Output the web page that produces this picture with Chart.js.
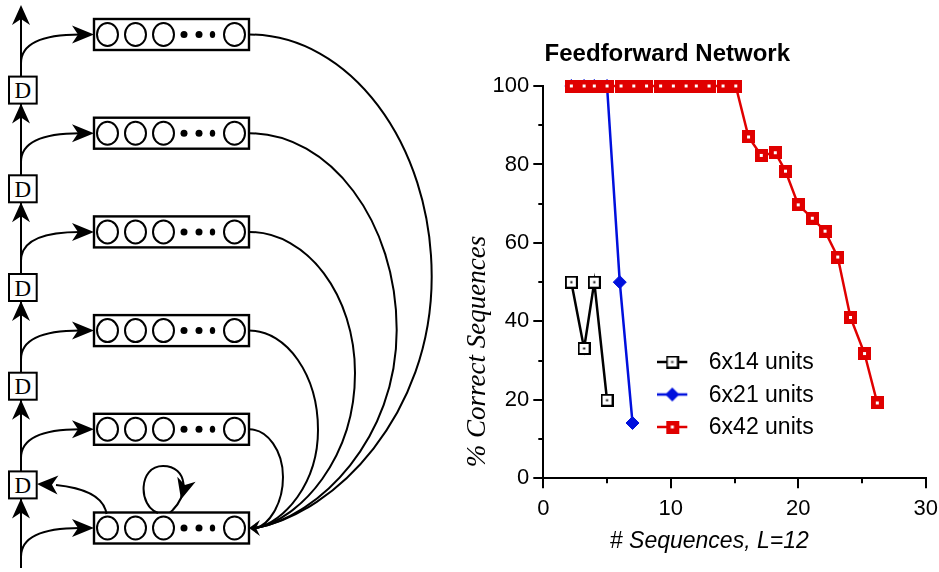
<!DOCTYPE html>
<html>
<head>
<meta charset="utf-8">
<script src="https://cdn.jsdelivr.net/npm/chart.js@4.4.1/dist/chart.umd.min.js"></script>
<style>
html,body{margin:0;padding:0;background:#fff;}
#wrap{position:relative;width:939px;height:572px;overflow:hidden;background:#fff;}
#diagram{position:absolute;left:0;top:0;}
#chartBox{position:absolute;left:440px;top:0;width:499px;height:572px;}
</style>
</head>
<body>
<div id="wrap">
<svg id="diagram" width="440" height="572" xmlns="http://www.w3.org/2000/svg"></svg>
<div id="chartBox"><canvas id="c"></canvas></div>
</div>
<script>
// ---------------- chart data ----------------
const chartTitle = 'Feedforward Network';
const xAxisTitle = '# Sequences, L=12';
const yAxisTitle = '% Correct Sequences';
const seriesNames = ['6x14 units', '6x21 units', '6x42 units'];
const xs6x14 = [2.2, 3.2, 4.0, 5.0];
const ys6x14 = [50, 33.1, 50, 19.9];
const xs6x21 = [2.2, 3.2, 4.0, 5.0, 6.0, 7.0];
const ys6x21 = [100, 100, 100, 100, 50, 14.1];
const xs6x42 = [2.2, 3.2, 4.0, 5.0, 6.1, 7.1, 8.1, 9.2, 10.2, 11.2, 12.0, 13.0, 14.1, 15.1,
                16.1, 17.1, 18.2, 19.0, 20.0, 21.1, 22.1, 23.1, 24.1, 25.2, 26.2];
const ys6x42 = [100, 100, 100, 100, 100, 100, 100, 100, 100, 100, 100, 100, 100, 100,
                87, 82.3, 83, 78.3, 69.7, 66.3, 63, 56.4, 41, 31.8, 19.2];
const xMinorTicks = [5, 15, 25];
const yMinorTicks = [10, 30, 50, 70, 90];

const BLACK = '#000000', BLUE = '#0010dd', RED = '#e00000';

// ---------------- network diagram (SVG) ----------------
const NS = 'http://www.w3.org/2000/svg';
const svg = document.getElementById('diagram');
function el(tag, attrs) {
  const e = document.createElementNS(NS, tag);
  for (const k in attrs) e.setAttribute(k, attrs[k]);
  svg.appendChild(e);
  return e;
}
function arrow(tx, ty, angDeg, len, half, notch) {
  const a = angDeg * Math.PI / 180, dx = Math.cos(a), dy = Math.sin(a);
  const px = -dy, py = dx;
  const bx = tx - len * dx, by = ty - len * dy;
  const nx = tx - (len - notch) * dx, ny = ty - (len - notch) * dy;
  const pts = [[tx, ty], [bx + half * px, by + half * py], [nx, ny], [bx - half * px, by - half * py]];
  el('polygon', {points: pts.map(p => p[0].toFixed(1) + ',' + p[1].toFixed(1)).join(' '), fill: '#000'});
}
const rowY = [34.5, 133.2, 231.9, 330.6, 429.3, 528];
const mainX = 21;
const curveMaxX = [431.7, 396.7, 355, 318, 283];
const curveMaxY = [276.7, 330, 373, 430, 477];
const line = {fill: 'none', stroke: '#000', 'stroke-width': 2};

for (let i = 0; i < 5; i++) {
  const x0 = 249, y0 = rowY[i], xm = curveMaxX[i], ym = curveMaxY[i], xe = 256, ye = 528;
  const k = 0.55;
  const d = `M${x0},${y0} C${x0 + k * (xm - x0)},${y0} ${xm},${ym - k * (ym - y0)} ${xm},${ym} ` +
            `C${xm},${ym + 0.55 * (ye - ym)} ${xe + 0.45 * (xm - xe)},${ye - 0.06 * (ye - ym)} ${xe},${ye}`;
  el('path', Object.assign({d}, line));
}
arrow(249, 528, 180, 11, 8, 4);

el('line', {x1: mainX, y1: 8, x2: mainX, y2: 568, stroke: '#000', 'stroke-width': 2});
arrow(mainX, 5, -90, 20, 9, 6);

for (let i = 0; i < 6; i++) {
  const cy = rowY[i];
  el('path', Object.assign({d: `M${mainX},${cy + 28.8} C${mainX},${cy + 8} 45,${cy} 80,${cy}`}, line));
  arrow(94, cy, 0, 22, 9, 6);
  el('rect', {x: 94, y: cy - 15.5, width: 155, height: 31, fill: '#fff', stroke: '#000', 'stroke-width': 2.4});
  [107.5, 135.5, 163.5, 234.5].forEach(cx => el('ellipse', {cx, cy, rx: 10.5, ry: 11.5, fill: 'none', stroke: '#000', 'stroke-width': 2}));
  el('circle', {cx: 184, cy, r: 3.5, fill: '#000'});
  el('circle', {cx: 199, cy, r: 3.5, fill: '#000'});
  el('ellipse', {cx: 212.5, cy, rx: 2.7, ry: 3.5, fill: '#000'});
}

for (let i = 0; i < 5; i++) {
  const dcy = rowY[i] + 55.6;
  el('rect', {x: 9, y: dcy - 13.5, width: 27.7, height: 27, fill: '#fff', stroke: '#000', 'stroke-width': 2});
  const t = el('text', {x: 22.8, y: dcy + 8, 'text-anchor': 'middle', 'font-family': '"Liberation Serif", "Times New Roman", serif', 'font-size': 23, fill: '#000'});
  t.textContent = 'D';
  arrow(mainX, dcy + 13.5, -90, 20, 9, 6);
}

el('path', Object.assign({d: 'M106.5,514 C104,496 85,488 56,485'}, line));
arrow(37, 484, 182.7, 21, 9.5, 6);

el('path', Object.assign({d: 'M158,513 C138,506 138,466 163,466 C188,466 190,496 170,512.5'}, line));
arrow(181, 499.5, 105, 21, 9.5, 6);

// ---------------- markers ----------------
function squareMarker(open) {
  const c = document.createElement('canvas'); c.width = 13; c.height = 13;
  const g = c.getContext('2d');
  if (open) {
    g.fillStyle = '#fff'; g.fillRect(0, 0, 13, 13);
    g.strokeStyle = BLACK; g.lineWidth = 2; g.strokeRect(1, 1, 11, 11);
    g.fillStyle = BLACK; g.fillRect(5.5, 5.5, 2, 2);
  } else {
    g.fillStyle = RED; g.fillRect(0, 0, 13, 13);
    g.fillStyle = '#fff'; g.fillRect(5, 5, 3, 3);
  }
  return c;
}
function legendIcon(color, kind) {
  const c = document.createElement('canvas'); c.width = 40; c.height = 18;
  const g = c.getContext('2d');
  const cy = 8, mx = 15;
  g.strokeStyle = color; g.lineWidth = 2.5;
  g.beginPath(); g.moveTo(0, cy); g.lineTo(30, cy); g.stroke();
  if (kind === 'diamond') {
    g.fillStyle = color; g.beginPath();
    g.moveTo(mx - 7, cy); g.lineTo(mx, cy - 7); g.lineTo(mx + 7, cy); g.lineTo(mx, cy + 7); g.closePath(); g.fill();
  } else {
    g.drawImage(squareMarker(kind === 'open'), mx - 6.5, cy - 6.5);
  }
  return c;
}
const markOpen = squareMarker(true), markRed = squareMarker(false);
const legendIcons = [legendIcon(BLACK, 'open'), legendIcon(BLUE, 'diamond'), legendIcon(RED, 'red')];

const pts = (xs, ys) => xs.map((x, i) => ({x, y: ys[i]}));

// ---------------- plugins ----------------
const decor = {
  id: 'decor',
  afterLayout(chart) {
    const lg = chart.legend, ca = chart.chartArea;
    if (lg) {
      const w = lg.width, h = lg.height;
      lg.left = ca.left + 104.5; lg.top = ca.top + 256;
      lg.right = lg.left + w; lg.bottom = lg.top + h;
    }
  },
  afterDraw(chart) {
    const {ctx, chartArea: ca, scales: {x, y}} = chart;
    ctx.save();
    ctx.strokeStyle = '#000'; ctx.lineWidth = 2;
    yMinorTicks.forEach(v => {
      const py = Math.round(y.getPixelForValue(v));
      ctx.beginPath(); ctx.moveTo(ca.left, py); ctx.lineTo(ca.left - 5, py); ctx.stroke();
    });
    xMinorTicks.forEach(v => {
      const px = Math.round(x.getPixelForValue(v));
      ctx.beginPath(); ctx.moveTo(px, ca.bottom); ctx.lineTo(px, ca.bottom + 5); ctx.stroke();
    });
    ctx.fillStyle = '#000';
    ctx.textBaseline = 'alphabetic';
    ctx.textAlign = 'center';
    ctx.font = 'bold 24px "Liberation Sans", Arial, sans-serif';
    ctx.fillText(chartTitle, ca.left + 124, 60.5);
    ctx.font = 'italic 23px "Liberation Sans", Arial, sans-serif';
    ctx.fillText(xAxisTitle, ca.left + 166, ca.bottom + 70);
    ctx.translate(38, 351.5);
    ctx.rotate(-Math.PI / 2);
    ctx.textBaseline = 'middle';
    ctx.font = 'italic 27px "Liberation Serif", "Times New Roman", serif';
    ctx.fillText(yAxisTitle, 0, 0);
    ctx.restore();
  }
};

const tickFont = {family: '"Liberation Sans", Arial, sans-serif', size: 22};

new Chart(document.getElementById('c'), {
  type: 'line',
  data: {
    datasets: [
      {label: seriesNames[0], data: pts(xs6x14, ys6x14), borderColor: BLACK, backgroundColor: '#fff',
       borderWidth: 2.5, pointStyle: markOpen, pointRadius: 7, tension: 0, clip: false, order: 0},
      {label: seriesNames[1], data: pts(xs6x21, ys6x21), borderColor: BLUE, backgroundColor: BLUE,
       borderWidth: 2.5, pointStyle: 'rectRot', pointRadius: 6.5, pointBorderWidth: 1, tension: 0, clip: false, order: 2},
      {label: seriesNames[2], data: pts(xs6x42, ys6x42), borderColor: RED, backgroundColor: RED,
       borderWidth: 2.5, pointStyle: markRed, pointRadius: 7, tension: 0, clip: false, order: 1}
    ]
  },
  options: {
    responsive: true,
    maintainAspectRatio: false,
    animation: false,
    events: [],
    layout: {padding: {left: 43.3, right: 13.3, top: 86, bottom: 53.7}},
    scales: {
      x: {
        type: 'linear', min: 0, max: 30,
        ticks: {stepSize: 10, color: '#000', font: tickFont, padding: 7, maxRotation: 0},
        grid: {drawOnChartArea: false, drawTicks: true, tickLength: 10, color: '#000', lineWidth: 2, tickWidth: 2},
        border: {display: true, color: '#000', width: 2},
        afterFit: s => { s.height = 40; s.paddingRight = 0; s.paddingLeft = 0; }
      },
      y: {
        type: 'linear', min: 0, max: 100,
        ticks: {stepSize: 20, color: '#000', font: tickFont, padding: 4},
        grid: {drawOnChartArea: false, drawTicks: true, tickLength: 10, color: '#000', lineWidth: 2, tickWidth: 2},
        border: {display: true, color: '#000', width: 2},
        afterFit: s => { s.width = 60; s.paddingTop = 0; s.paddingBottom = 0; }
      }
    },
    plugins: {
      title: {display: false},
      tooltip: {enabled: false},
      legend: {
        display: true,
        position: 'chartArea',
        align: 'start',
        labels: {
          usePointStyle: true,
          pointStyleWidth: 40,
          padding: 9.5,
          color: '#000',
          font: {family: '"Liberation Sans", Arial, sans-serif', size: 23},
          sort: (a, b) => a.datasetIndex - b.datasetIndex,
          generateLabels: (chart) => {
            const items = Chart.defaults.plugins.legend.labels.generateLabels(chart);
            items.forEach(it => { it.pointStyle = legendIcons[it.datasetIndex]; });
            return items;
          }
        }
      }
    }
  },
  plugins: [decor]
});
</script>
</body>
</html>
